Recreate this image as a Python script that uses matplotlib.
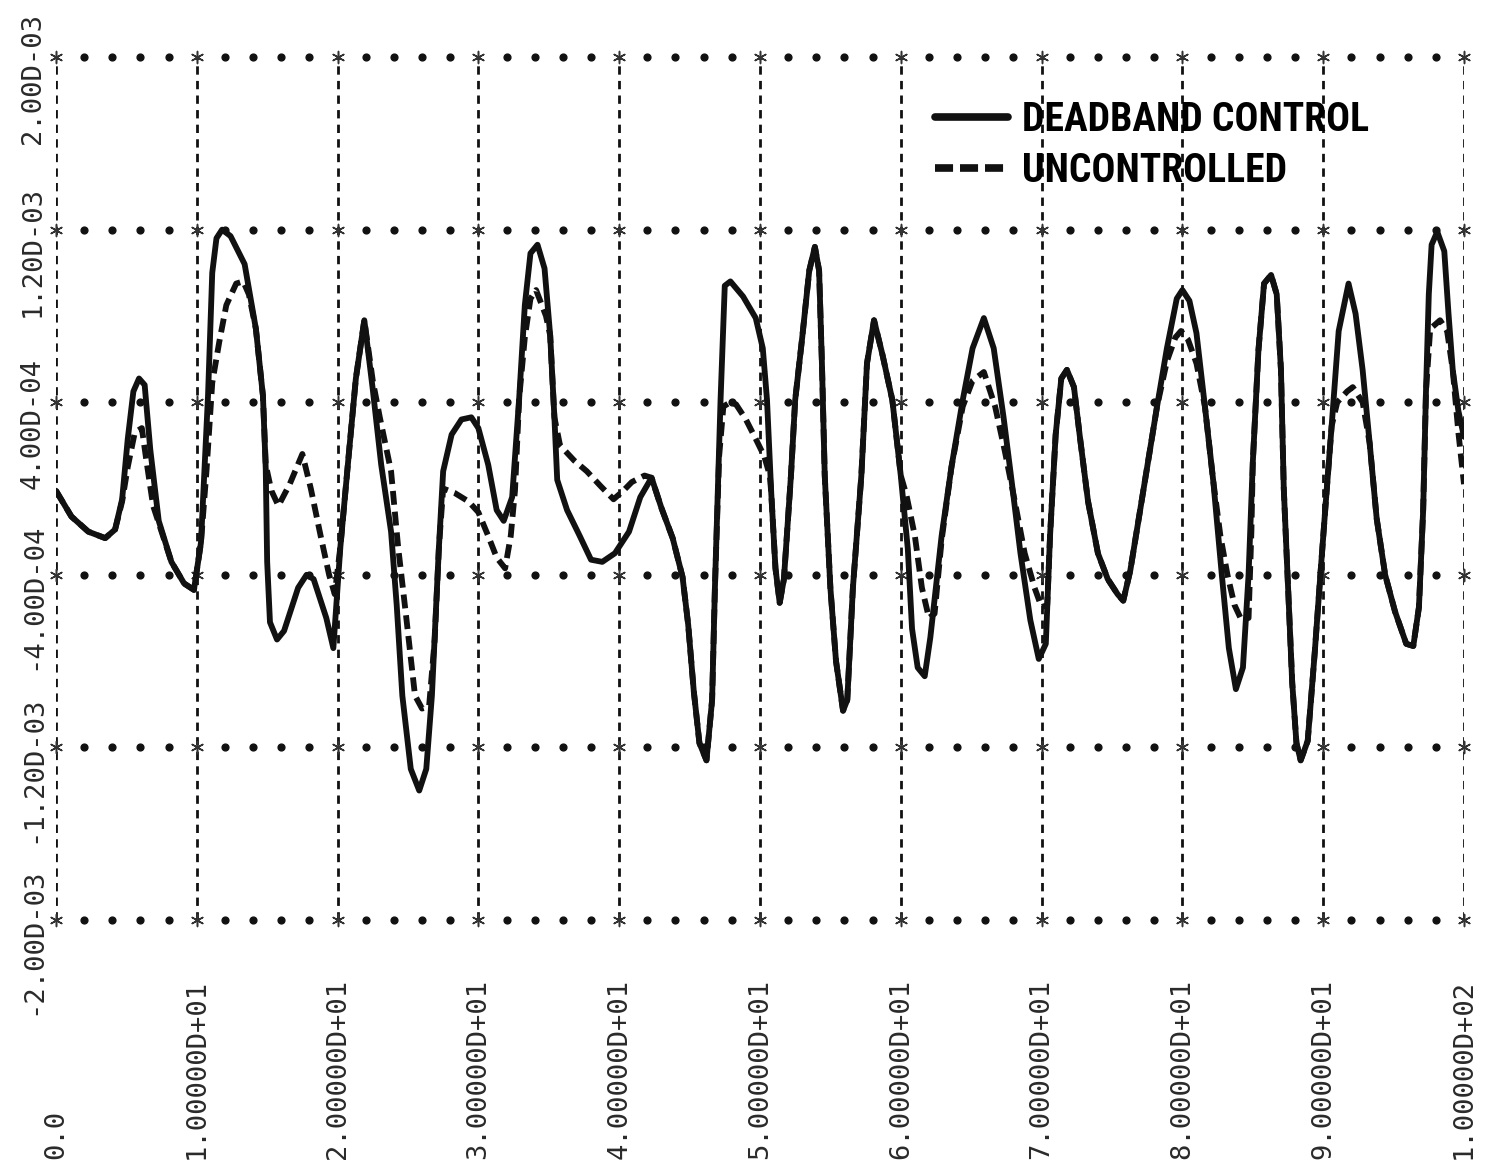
import matplotlib
matplotlib.use("Agg")
import matplotlib.pyplot as plt
import matplotlib.transforms as mtransforms
from matplotlib import font_manager
import numpy as np

# time (x) and response values, response in units of 1.0D-04
t_deadband = [0.0, 1.1, 2.3, 3.5, 4.2, 4.7, 5.1, 5.5, 5.9, 6.3, 6.7, 7.3, 8.2, 9.1, 9.8,
              10.3, 10.8, 11.1, 11.4, 11.8, 12.4, 13.4, 14.2, 14.7, 14.9, 15.0, 15.2, 15.7,
              16.2, 16.6, 17.2, 17.8, 18.3, 19.2, 19.7, 20.2, 20.8, 21.3, 21.9, 22.5, 23.1,
              23.8, 24.2, 24.6, 25.2, 25.8, 26.3, 26.7, 27.2, 27.5, 28.1, 28.8, 29.5, 30.0,
              30.7, 31.3, 31.8, 32.4, 32.9, 33.3, 33.7, 34.2, 34.7, 35.1, 35.4, 35.6, 36.3,
              37.2, 38.0, 38.8, 39.7, 40.7, 41.5, 42.3, 43.0, 43.8, 44.5, 44.9, 45.3, 45.7,
              46.2, 46.6, 46.8, 47.2, 47.5, 47.9, 48.8, 49.7, 50.2, 50.5, 50.8, 51.1, 51.4,
              51.7, 52.2, 52.5, 53.0, 53.5, 53.9, 54.2, 54.4, 54.6, 55.0, 55.4, 55.9, 56.2,
              56.6, 57.2, 57.6, 58.1, 58.7, 59.4, 60.0, 60.5, 60.8, 61.2, 61.7, 62.1, 62.9,
              63.6, 64.4, 65.1, 65.9, 66.6, 67.3, 67.9, 68.5, 69.2, 69.8, 70.3, 70.6, 71.0,
              71.4, 71.8, 72.3, 72.7, 73.3, 74.0, 74.7, 75.4, 75.8, 76.3, 76.9, 77.5, 78.2,
              78.9, 79.6, 80.0, 80.5, 81.0, 81.6, 82.2, 82.8, 83.3, 83.8, 84.3, 84.7, 85.0,
              85.4, 85.8, 86.3, 86.7, 87.0, 87.2, 87.5, 87.8, 88.1, 88.4, 88.9, 89.4, 89.8,
              90.2, 90.6, 91.1, 91.8, 92.3, 92.8, 93.3, 93.8, 94.4, 95.1, 95.9, 96.4, 96.8,
              97.1, 97.3, 97.5, 97.7, 98.1, 98.6, 98.9, 99.2, 99.6, 100.0]
y_deadband = [-0.1, -1.3, -2.0, -2.3, -1.9, -0.5, 2.3, 4.5, 5.1, 4.8, 1.8, -1.5, -3.4, -4.4, -4.7,
              -2.5, 4.3, 10.0, 11.6, 12.0, 11.7, 10.4, 7.4, 4.3, 0.9, -3.4, -6.2, -7.0,
              -6.6, -5.8, -4.6, -4.0, -4.2, -6.0, -7.4, -2.7, 1.6, 5.1, 7.8, 4.6, 1.1,
              -2.0, -5.4, -9.6, -13.0, -14.0, -13.0, -9.6, -2.7, 0.8, 2.5, 3.2, 3.3, 2.8,
              1.1, -1.0, -1.5, -0.4, 4.2, 8.5, 10.9, 11.3, 10.2, 7.1, 3.3, 0.4, -1.0,
              -2.2, -3.3, -3.4, -3.0, -2.0, -0.4, 0.5, -0.9, -2.3, -4.1, -6.3, -9.4, -11.8,
              -12.6, -9.8, -4.6, 4.1, 9.4, 9.6, 8.9, 7.9, 6.5, 4.1, -0.2, -3.7, -5.3,
              -4.2, 0.6, 4.1, 7.0, 10.1, 11.2, 10.1, 5.8, 0.6, -4.6, -8.0, -10.3, -9.8,
              -4.6, 0.6, 5.8, 7.8, 6.2, 4.1, 0.6, -2.8, -6.5, -8.3, -8.7, -6.9, -2.2,
              1.0, 4.1, 6.5, 7.9, 6.5, 3.3, 0.2, -3.0, -6.1, -7.9, -7.2, -2.2, 2.5,
              5.1, 5.5, 4.7, 2.5, -0.6, -3.0, -4.2, -4.9, -5.2, -3.8, -1.4, 1.0, 3.8,
              6.5, 8.8, 9.2, 8.7, 7.2, 3.8, 0.3, -4.0, -7.4, -9.3, -8.3, -4.0, 1.2,
              6.4, 9.5, 9.9, 9.0, 5.5, 0.0, -4.5, -9.0, -11.8, -12.6, -11.7, -7.6, -4.0,
              -0.5, 2.9, 7.3, 9.5, 8.1, 5.5, 2.1, -1.4, -4.0, -5.7, -7.2, -7.3, -5.5,
              -1.0, 4.5, 9.0, 11.3, 11.9, 11.0, 8.1, 5.5, 3.6, 2.4]

t_uncontrolled = [0.0, 1.1, 2.3, 3.5, 4.2, 4.7, 5.1, 5.6, 6.1, 6.4, 6.9, 7.6, 8.2, 9.1, 9.8,
                  10.3, 10.7, 11.1, 11.6, 12.1, 12.8, 13.3, 13.7, 14.2, 14.7, 14.9, 15.3, 15.8,
                  16.6, 17.5, 18.1, 18.8, 19.4, 19.8, 20.2, 20.8, 21.3, 21.9, 22.5, 23.0, 23.8,
                  24.3, 24.9, 25.5, 26.0, 26.5, 26.9, 27.2, 27.5, 28.3, 29.3, 30.0, 30.7, 31.3,
                  31.9, 32.3, 32.6, 32.9, 33.3, 33.7, 34.1, 34.8, 35.1, 35.4, 35.8, 36.8, 37.7,
                  38.7, 39.6, 40.3, 40.9, 41.8, 42.3, 43.0, 43.8, 44.5, 44.9, 45.3, 45.7, 46.2,
                  46.6, 46.8, 47.1, 47.4, 47.9, 48.3, 49.0, 49.7, 50.3, 50.7, 50.8, 51.1, 51.4,
                  51.7, 52.2, 52.5, 53.0, 53.5, 53.9, 54.2, 54.4, 54.6, 55.0, 55.4, 55.9, 56.2,
                  56.6, 57.2, 57.6, 58.1, 58.7, 59.4, 60.0, 60.4, 61.0, 61.5, 62.0, 62.4, 62.9,
                  63.6, 64.4, 65.1, 65.9, 66.7, 67.4, 68.1, 68.8, 69.5, 70.0, 70.4, 70.6, 71.0,
                  71.4, 71.8, 72.3, 72.7, 73.3, 74.0, 74.7, 75.4, 75.8, 76.3, 76.9, 77.5, 78.2,
                  78.9, 79.5, 79.9, 80.4, 81.0, 81.6, 82.2, 82.7, 83.2, 83.7, 84.2, 84.7, 84.9,
                  85.0, 85.4, 85.8, 86.3, 86.7, 87.0, 87.2, 87.5, 87.8, 88.1, 88.4, 88.9, 89.4,
                  89.8, 90.2, 90.6, 91.0, 91.7, 92.1, 92.8, 93.3, 93.8, 94.4, 95.1, 95.9, 96.4,
                  96.8, 97.1, 97.3, 97.6, 98.3, 98.8, 99.2, 99.6, 100.0]
y_uncontrolled = [-0.1, -1.3, -2.0, -2.3, -1.9, -0.6, 1.0, 2.6, 2.8, 1.4, -0.8, -2.2, -3.4, -4.4, -4.7,
                  -2.5, 0.9, 4.9, 6.8, 8.5, 9.5, 9.6, 9.0, 7.4, 4.3, 1.1, -0.1, -0.8,
                  0.2, 1.6, 0.0, -2.2, -4.0, -4.9, -2.7, 1.6, 5.1, 7.8, 5.0, 3.3, 0.8,
                  -2.7, -6.1, -9.6, -10.2, -10.1, -7.0, -2.7, 0.0, -0.2, -0.6, -1.1, -2.2, -3.2,
                  -3.7, -2.2, -0.1, 4.2, 7.0, 8.8, 9.2, 8.0, 7.1, 3.3, 2.0, 1.3, 0.8,
                  0.1, -0.5, -0.1, 0.3, 0.6, 0.5, -0.9, -2.3, -4.1, -6.3, -9.4, -11.8, -12.6,
                  -9.8, -4.6, 1.5, 3.8, 4.0, 3.9, 3.2, 2.3, 1.5, 0.6, -0.2, -3.7, -5.3,
                  -4.2, 0.6, 4.1, 7.0, 10.1, 11.2, 10.1, 5.8, 0.6, -4.6, -8.0, -10.3, -9.8,
                  -4.6, 0.6, 5.8, 7.8, 6.2, 4.1, 0.6, -0.3, -2.2, -4.6, -6.0, -5.8, -2.4,
                  1.0, 3.8, 5.0, 5.4, 3.8, 1.7, -0.6, -3.0, -4.6, -5.5, -5.4, -2.2, 2.5,
                  5.1, 5.5, 4.7, 2.5, -0.6, -3.0, -4.2, -4.9, -5.2, -3.8, -1.4, 1.0, 3.8,
                  5.9, 7.0, 7.3, 6.9, 5.8, 3.8, 0.3, -2.2, -4.0, -5.4, -6.1, -6.0, -2.0,
                  1.2, 6.4, 9.5, 9.9, 9.0, 5.5, 0.0, -4.5, -9.0, -11.8, -12.6, -11.7, -7.6,
                  -4.0, -0.5, 2.9, 4.0, 4.5, 4.7, 4.0, 2.1, -1.4, -4.0, -5.7, -7.2, -7.3,
                  -5.5, -1.0, 4.5, 7.4, 7.8, 7.3, 5.5, 2.6, 0.2]

x_ticks = [0, 10, 20, 30, 40, 50, 60, 70, 80, 90, 100]
x_labels = ['0.0', '1.00000D+01', '2.00000D+01', '3.00000D+01', '4.00000D+01', '5.00000D+01',
            '6.00000D+01', '7.00000D+01', '8.00000D+01', '9.00000D+01', '1.00000D+02']
y_ticks = [-20, -12, -4, 4, 12, 20]
y_labels = ['-2.00D-03', '-1.20D-03', '-4.00D-04', '4.00D-04', '1.20D-03', '2.00D-03']
legend_labels = ['DEADBAND CONTROL', 'UNCONTROLLED']

plt.rcParams['lines.scale_dashes'] = False

# a narrow bold face is closest to the lettering; fall back to Liberation Sans
names = {f.name for f in font_manager.fontManager.ttflist}
legend_font, legend_size = 'Liberation Sans', 24
for fam in ['Liberation Sans Narrow', 'Roboto Condensed', 'DejaVu Sans Condensed']:
    if fam in names:
        legend_font, legend_size = fam, 28.5
        break
mono = 'DejaVu Sans Mono'
ink = '#111111'

fig = plt.figure(figsize=(15, 11.76), dpi=100)
ax = fig.add_axes([0.0373, 0.2177, 0.9387, 0.7338])
ax.set_xlim(0, 100)
ax.set_ylim(-20, 20)
ax.axis('off')

# dashed verticals
ax.vlines(x_ticks, y_ticks[0], y_ticks[-1], colors=ink, linewidth=2.0,
          linestyles=[(0, (6, 4.5))], zorder=1)
# dotted rows with asterisks
dots = np.array([x for x in range(0, 101, 2) if x % 10 != 0])
for yt in y_ticks:
    ax.scatter(dots, np.full(len(dots), yt), s=24, color=ink, zorder=2, clip_on=False)
    ax.scatter(x_ticks, np.full(len(x_ticks), yt), s=75, marker=(6, 2, 0), color='#333333',
               linewidths=1.1, zorder=3, clip_on=False)

solid, = ax.plot(t_deadband, y_deadband, color=ink, lw=4.2, solid_joinstyle='round',
                 solid_capstyle='round', zorder=5, label=legend_labels[0])
dashed, = ax.plot(t_uncontrolled, y_uncontrolled, color=ink, lw=4.2, zorder=4,
                  dashes=(10, 5), dash_capstyle='butt', dash_joinstyle='round',
                  label=legend_labels[1])

fs_px = legend_size * 100 / 72
leg = ax.legend(handles=[solid, dashed], loc='upper left', bbox_to_anchor=(0.623, 0.914),
                bbox_transform=fig.transFigure, frameon=False, borderpad=0, borderaxespad=0,
                handlelength=73 / fs_px, handletextpad=14 / fs_px,
                labelspacing=(52 - 1.0 * fs_px) / fs_px,
                prop={'family': legend_font, 'weight': 'bold', 'size': legend_size})
for line in leg.get_lines():
    line.set_linewidth(5.5)
leg.get_lines()[1].set_dashes((13, 5))

# tick labels, printer style
ytrans = mtransforms.blended_transform_factory(fig.transFigure, ax.transData)
for yt, lab in zip(y_ticks, y_labels):
    ax.text(0.022, yt - 1.0, lab, transform=ytrans, rotation=90, ha='center', va='center',
            family=mono, fontsize=19.5, color='#2a2a2a')
xtrans = mtransforms.blended_transform_factory(ax.transData, fig.transFigure)
for xt, lab in zip(x_ticks, x_labels):
    ax.text(xt, 0.0145, lab, transform=xtrans, rotation=90, ha='center', va='bottom',
            family=mono, fontsize=19.5, color='#2a2a2a')

fig.savefig('out.png', dpi=100, facecolor='white')
